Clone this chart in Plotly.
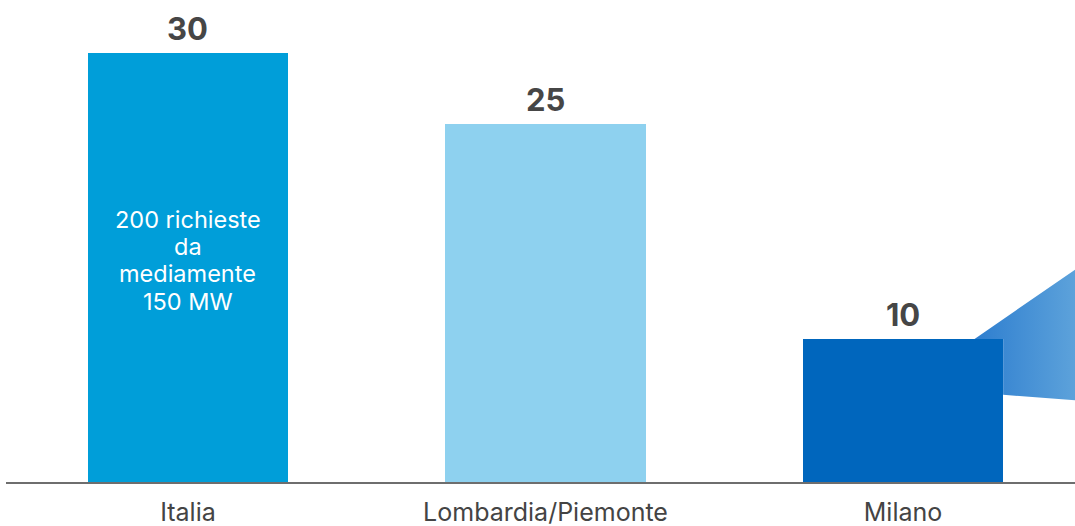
import plotly.graph_objects as go

categories = ["Italia", "Lombardia/Piemonte", "Milano"]
values = [30, 25, 10]
bar_colors = ["#009ED9", "#8ED1EF", "#0066BD"]
inner_note_lines = ["200 richieste", "da", "mediamente", "150 MW"]

# decorative funnel polygon leaving the Milano bar (data coords);
# starts on the bar top, the part behind the bar is left out
funnel_x = [2.2, 2.49, 2.49, 2.28, 2.28]
funnel_y = [10.0, 15.0, 5.7, 6.1, 10.0]

FONT = "Inter, Liberation Sans, sans-serif"

fig = go.Figure()

fig.add_trace(go.Scatter(
    x=funnel_x + [funnel_x[0]], y=funnel_y + [funnel_y[0]],
    mode="lines", line=dict(width=0),
    fill="toself",
    fillgradient=dict(type="horizontal",
                      colorscale=[[0, "#2E7ECF"], [1, "#5EA3DB"]]),
    hoverinfo="skip", showlegend=False,
))

fig.add_trace(go.Bar(
    x=list(range(len(categories))), y=values,
    marker=dict(color=bar_colors, line=dict(width=0)),
    width=0.56, showlegend=False, hoverinfo="skip",
))

for i, v in enumerate(values):
    fig.add_annotation(
        x=i, y=v, text=f"<b>{v}</b>", showarrow=False,
        yanchor="bottom", yshift=4,
        font=dict(family=FONT, size=31, color="#464646"),
    )

line_shifts = [41, 13.5, -13.5, -41]
for line, s in zip(inner_note_lines, line_shifts):
    fig.add_annotation(
        x=0, y=15.5, yshift=s, text=line, showarrow=False,
        font=dict(family=FONT, size=23.5, color="white"),
        align="center",
    )

fig.update_layout(
    width=1075, height=526,
    margin=dict(l=6, r=0, t=0, b=44, autoexpand=False),
    paper_bgcolor="white", plot_bgcolor="white",
    bargap=0,
    xaxis=dict(
        tickmode="array", tickvals=list(range(len(categories))), ticktext=categories,
        range=[-0.509, 2.481], showgrid=False, zeroline=False,
        showline=True, linecolor="#6E6E6E", linewidth=2,
        ticks="", ticklabelstandoff=7, automargin=False,
        tickfont=dict(family=FONT, size=25, color="#444444"),
        fixedrange=True,
    ),
    yaxis=dict(range=[0, 33.7], visible=False, fixedrange=True, automargin=False),
)

fig.write_html("out.html", config={"displayModeBar": False},
               post_script="document.body.style.margin='0';")
